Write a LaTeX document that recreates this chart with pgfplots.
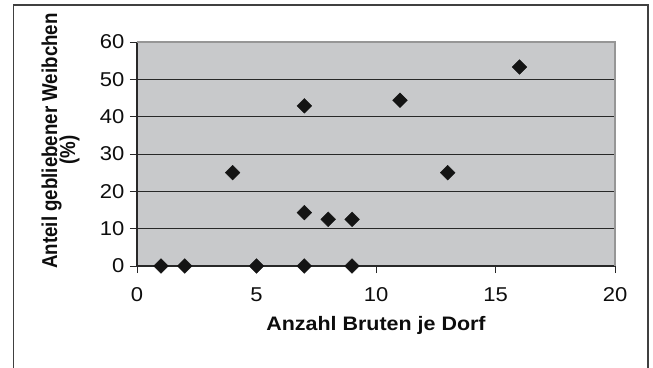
\documentclass[border=0pt]{standalone}
\usepackage{fontspec}
\setmainfont{Liberation Sans}[FakeStretch=1.1]
\newfontfamily\ylabfont{Liberation Sans}
\usepackage{pgfplots}
\pgfplotsset{compat=1.18}

\definecolor{plotbg}{RGB}{200,201,203}
\definecolor{framegray}{RGB}{64,64,64}
\definecolor{bordergray}{RGB}{150,150,150}
\definecolor{gridgray}{RGB}{40,40,40}
\definecolor{markblack}{RGB}{20,20,20}

% Anteil gebliebener Weibchen (%) gegen Anzahl Bruten je Dorf
\pgfplotstableread{
x y
1 0
2 0
5 0
7 0
9 0
4 25
7 42.9
7 14.3
8 12.5
9 12.5
11 44.4
13 25
16 53.3
}\bruten

\begin{document}
\begin{tikzpicture}[x=1pt,y=1pt]
\useasboundingbox (0,0) rectangle (653,367);
% outer chart frame
\draw[framegray, line width=1.4pt] (13.5,-20) rectangle (648,362);
\begin{axis}[
  at={(137pt,101pt)}, anchor=south west,
  scale only axis, width=478pt, height=224pt,
  xmin=0, xmax=20, ymin=0, ymax=60,
  xtick={0,5,...,20}, ytick={0,10,...,60},
  axis lines*=left,
  axis line style={gridgray, line width=1.1pt},
  tick style={gridgray, line width=1pt},
  tick align=outside,
  major tick length=7pt,
  axis background/.style={fill=plotbg},
  ymajorgrids,
  grid style={gridgray, line width=0.9pt},
  /pgf/number format/assume math mode=true,
  tick label style={font=\fontsize{20}{22}\selectfont, text=black!95},
  xticklabel style={yshift=-11pt},
  yticklabel style={xshift=-2pt},
  xlabel={Anzahl Bruten je Dorf},
  xlabel style={at={(axis description cs:0.5,0)}, anchor=base, yshift=-64.7pt,
    font=\bfseries\fontsize{19.5}{22}\selectfont, text=black!95},
  clip=false,
]
\addplot[only marks, mark=square*, mark size=5.2pt,
  mark options={rotate=45, fill=markblack, draw=markblack}]
  table[x=x, y=y] {\bruten};
% lighter border at top and right of the plot area
\draw[bordergray, line width=1.6pt] (rel axis cs:0,1) -- (rel axis cs:1,1) -- (rel axis cs:1,0);
\end{axis}
% two-line axis title on the left
\node[rotate=90, anchor=base, font=\ylabfont\bfseries\fontsize{18.7}{20}\selectfont, text=black!95]
  at (57pt,226pt) {\scalebox{1}[1.15]{Anteil gebliebener Weibchen}};
\node[rotate=90, anchor=base, font=\ylabfont\bfseries\fontsize{18.7}{20}\selectfont, text=black!95]
  at (75pt,217pt) {\scalebox{1}[1.15]{(\%)}};
\end{tikzpicture}
\end{document}
